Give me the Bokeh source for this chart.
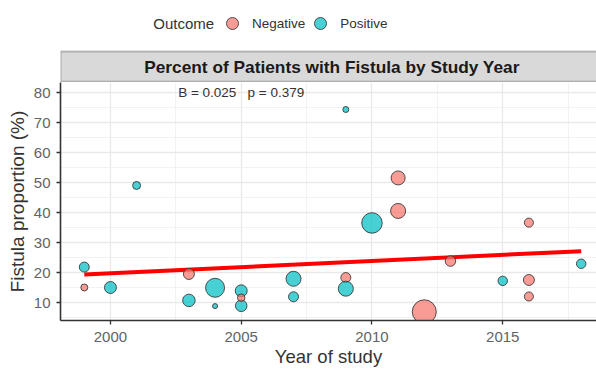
import numpy as np
from bokeh.plotting import figure
from bokeh.layouts import column
from bokeh.models import (ColumnDataSource, FixedTicker, BoxAnnotation, Label,
                          Legend, LegendItem, Range1d)
from bokeh.transform import factor_cmap
from bokeh.embed import file_html
from bokeh.resources import INLINE

# ---- data ----
years = [1999, 1999, 2000, 2001, 2003, 2003, 2004, 2004, 2005, 2005, 2005,
         2007, 2007, 2009, 2009, 2009, 2010, 2011, 2011, 2012, 2013, 2015,
         2016, 2016, 2016, 2018]
proportion = [21.9, 15.1, 15.1, 49.1, 19.6, 10.8, 15.0, 8.9, 14.0, 9.0, 11.7,
              18.0, 12.0, 74.4, 18.4, 14.7, 36.6, 51.6, 40.6, 7.0, 23.9, 17.3,
              36.7, 17.6, 12.1, 23.0]
outcome = ["Positive", "Negative", "Positive", "Positive", "Negative", "Positive",
           "Positive", "Positive", "Positive", "Positive", "Negative",
           "Positive", "Positive", "Positive", "Negative", "Positive", "Positive",
           "Negative", "Negative", "Negative", "Negative", "Positive",
           "Negative", "Negative", "Negative", "Positive"]
sample_size = [39, 19, 56, 25, 47, 61, 141, 10, 56, 52, 22,
               88, 39, 14, 39, 88, 164, 77, 88, 225, 43, 35,
               32, 47, 32, 35]

fit_years = [1999, 2018]
fit_values = [19.4, 27.2]

outcome_levels = ["Negative", "Positive"]
outcome_colors = ["#F8766D", "#00BFC4"]
x_ticks = [2000, 2005, 2010, 2015]
y_ticks = [10, 20, 30, 40, 50, 60, 70, 80]
title_text = "Percent of Patients with Fistula by Study Year"
stat_text = "B = 0.025\u00a0\u00a0 p = 0.379"
legend_title = "Outcome"

FONT = "Liberation Sans"
cmap = factor_cmap("outcome", outcome_colors, outcome_levels)

src = ColumnDataSource(dict(
    year=years, prop=proportion, outcome=outcome,
    diam=list(1.6 * np.sqrt(np.array(sample_size, dtype=float))),
))
x_range = Range1d(1998.09, 2018.585)

# ---------------- header: legend + facet strip ----------------
top = figure(width=596, height=82, output_backend="svg", toolbar_location=None,
             x_range=x_range, y_range=Range1d(0, 82),
             x_axis_type=None, y_axis_type=None,
             min_border_left=60, min_border_right=0, min_border_top=0,
             min_border_bottom=0)
top.outline_line_color = None
top.background_fill_color = "white"
top.border_fill_color = "white"

# strip runs off the right edge of the picture, as in the reference
top.add_layout(BoxAnnotation(bottom=0.8, top=31, right=2020.0, fill_color="#d9d9d9",
                             fill_alpha=1.0, line_color="#333333", line_width=2))
top.add_layout(Label(x=2008.47, y=15.5, text=title_text, text_align="center",
                     text_baseline="middle", text_font=FONT, text_font_size="17.3px",
                     text_font_style="bold", text_color="#1a1a1a"))
top.add_layout(Label(x=2001.64, y=59.5, text=legend_title, text_align="left",
                     text_baseline="middle", text_font=FONT, text_font_size="15px",
                     text_color="#333333"))

key_src = ColumnDataSource(dict(outcome=outcome_levels,
                                x=[np.nan] * len(outcome_levels),
                                y=[np.nan] * len(outcome_levels)))
key = top.scatter("x", "y", source=key_src, marker="circle", size=12,
                  fill_color=cmap, fill_alpha=0.72, line_color="#333333",
                  line_alpha=0.85, line_width=1)
legend = Legend(items=[LegendItem(label=lvl, renderers=[key], index=i)
                       for i, lvl in enumerate(outcome_levels)],
                orientation="horizontal", location=(157, 44),
                label_text_font=FONT, label_text_font_size="13.5px",
                label_text_color="#333333",
                glyph_width=30, glyph_height=30, label_standoff=5, spacing=0,
                padding=0, margin=0, border_line_color=None,
                background_fill_alpha=0)
top.add_layout(legend, "center")

# ---------------- main panel ----------------
p = figure(width=596, height=287, output_backend="svg", toolbar_location=None,
           x_range=x_range, y_range=Range1d(4.1, 83.4),
           min_border_left=60, min_border_right=0, min_border_top=0,
           min_border_bottom=47)
p.outline_line_color = None
p.background_fill_color = "white"
p.border_fill_color = "white"

p.xaxis.ticker = FixedTicker(ticks=x_ticks, minor_ticks=[1997.5, 2002.5, 2007.5, 2012.5, 2017.5])
p.yaxis.ticker = FixedTicker(ticks=y_ticks, minor_ticks=[5, 15, 25, 35, 45, 55, 65, 75])
for g in (p.xgrid, p.ygrid):
    g.grid_line_color = "#e9e9e9"
    g.grid_line_width = 1.3
    g.minor_grid_line_color = "#f1f1f1"
    g.minor_grid_line_width = 0.9

for ax in (p.xaxis, p.yaxis):
    ax.axis_line_color = "#333333"
    ax.axis_line_width = 1.6
    ax.major_tick_line_color = "#333333"
    ax.major_tick_line_width = 1.3
    ax.major_tick_in = 0
    ax.major_tick_out = 4
    ax.minor_tick_line_color = None
    ax.major_label_text_font = FONT
    ax.major_label_text_font_size = "15px"
    ax.major_label_text_color = "#636363"
    ax.axis_label_text_font = FONT
    ax.axis_label_text_font_style = "normal"
    ax.axis_label_text_color = "#333333"
p.xaxis.axis_label = "Year of study"
p.yaxis.axis_label = "Fistula proportion (%)"
p.xaxis.axis_label_text_font_size = "18.5px"
p.yaxis.axis_label_text_font_size = "19px"
p.xaxis.major_label_standoff = 7
p.xaxis.axis_label_standoff = 1
p.yaxis.major_label_standoff = 6
p.yaxis.axis_label_standoff = 3

p.line(fit_years, fit_values, line_color="#FF0000", line_width=4)
p.scatter("year", "prop", source=src, size="diam", marker="circle",
          fill_color=cmap, fill_alpha=0.72, line_color="#333333",
          line_alpha=0.85, line_width=1)

p.add_layout(Label(x=2005, y=80, text=stat_text, text_align="center",
                   text_baseline="middle", text_font=FONT, text_font_size="13.5px",
                   text_color="#333333"))

layout = column(top, p, spacing=0)
open("out.html", "w").write(file_html(layout, INLINE))
